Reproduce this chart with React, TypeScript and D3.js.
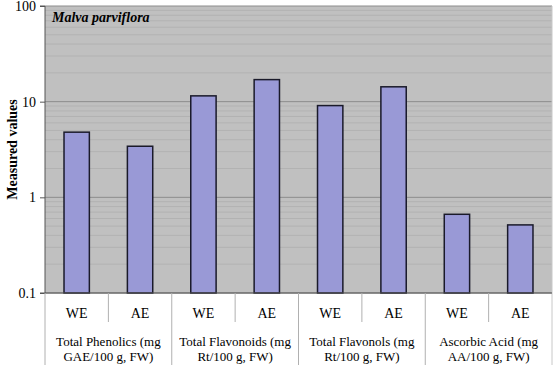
import { useEffect, useRef } from "react";
import * as d3 from "d3";

const groups = [
  ["Total Phenolics (mg", "GAE/100 g, FW)"],
  ["Total Flavonoids (mg", "Rt/100 g, FW)"],
  ["Total Flavonols (mg", "Rt/100 g, FW)"],
  ["Ascorbic Acid (mg", "AA/100 g, FW)"],
];
const extracts = ["WE", "AE"];
const weValues = [4.8, 11.5, 9.1, 0.665];
const aeValues = [3.42, 17, 14.3, 0.515];
const yTicks = [0.1, 1, 10, 100];

const FONT = "'Liberation Serif', 'DejaVu Serif', 'Noto Serif', serif";

export default function App() {
  const svgRef = useRef(null);

  useEffect(() => {
    document.body.style.margin = "0";
    const w = 553;
    const h = 365;
    const left = 45;
    const right = 552;
    const top = 6;
    const bottom = 293;
    const svg = d3
      .select(svgRef.current)
      .attr("width", w)
      .attr("height", h)
      .style("font-family", FONT);
    svg.selectAll("*").remove();

    const bars = groups.flatMap((g, i) =>
      extracts.map((ext) => ({
        key: `${i}-${ext}`,
        group: i,
        ext,
        v: ext === "WE" ? weValues[i] : aeValues[i],
      }))
    );

    const x = d3
      .scaleBand()
      .domain(bars.map((b) => b.key))
      .range([left, right])
      .paddingInner(0.6)
      .paddingOuter(0.3);
    const slot = d3
      .scaleBand()
      .domain(bars.map((b) => b.key))
      .range([left, right]);
    const gx = d3
      .scaleBand()
      .domain(groups.map((_, i) => String(i)))
      .range([left, right]);
    const y = d3.scaleLog().domain([0.1, 100]).range([bottom, top]);

    svg
      .append("rect")
      .attr("x", left)
      .attr("y", top)
      .attr("width", right - left)
      .attr("height", bottom - top)
      .attr("fill", "#c0c0c0");

    // minor grid
    const minor: number[] = [];
    [0.1, 1, 10].forEach((d) => {
      for (let k = 2; k <= 9; k++) minor.push(d * k);
    });
    svg
      .append("g")
      .selectAll("line")
      .data(minor)
      .join("line")
      .attr("x1", left)
      .attr("x2", right)
      .attr("y1", (d) => y(d))
      .attr("y2", (d) => y(d))
      .attr("stroke", "#b2b2b2")
      .attr("stroke-width", 1);

    svg
      .append("g")
      .selectAll("line")
      .data(yTicks)
      .join("line")
      .attr("x1", left)
      .attr("x2", right)
      .attr("y1", (d) => y(d))
      .attr("y2", (d) => y(d))
      .attr("stroke", "#8c8c8c")
      .attr("stroke-width", 1);

    svg
      .append("g")
      .selectAll("rect")
      .data(bars)
      .join("rect")
      .attr("x", (b) => x(b.key)!)
      .attr("y", (b) => y(b.v))
      .attr("width", x.bandwidth())
      .attr("height", (b) => bottom - y(b.v))
      .attr("fill", "#9999d6")
      .attr("stroke", "#1a1a2a")
      .attr("stroke-width", 1.5);

    // right border
    svg
      .append("line")
      .attr("x1", right)
      .attr("x2", right)
      .attr("y1", top)
      .attr("y2", h)
      .attr("stroke", "#c8c8c8");

    // y axis
    const yAxis = d3
      .axisLeft(y)
      .tickValues(yTicks)
      .tickFormat((d) => String(d))
      .tickSize(5)
      .tickPadding(4);
    const ya = svg
      .append("g")
      .attr("transform", `translate(${left},0)`)
      .call(yAxis)
      .attr("font-family", null)
      .attr("font-size", null);
    ya.select(".domain").attr("stroke", "#555").attr("d", `M-5,${top}H0V${bottom}H-5`);
    ya.selectAll(".tick line").attr("stroke", "#555");
    ya.selectAll("text")
      .style("font-family", FONT)
      .style("font-size", "14px")
      .attr("fill", "#000");

    // x axis baseline
    svg
      .append("line")
      .attr("x1", left)
      .attr("x2", right)
      .attr("y1", bottom)
      .attr("y2", bottom)
      .attr("stroke", "#555");

    // sub ticks between WE and AE
    svg
      .append("g")
      .selectAll("line")
      .data(groups.map((_, i) => `${i}-AE`))
      .join("line")
      .attr("x1", (k) => slot(k)!)
      .attr("x2", (k) => slot(k)!)
      .attr("y1", bottom)
      .attr("y2", 322)
      .attr("stroke", "#b0b0b0");

    // group separators
    svg
      .append("g")
      .selectAll("line")
      .data(groups.map((_, i) => String(i)))
      .join("line")
      .attr("x1", (k) => gx(k)!)
      .attr("x2", (k) => gx(k)!)
      .attr("y1", bottom)
      .attr("y2", h)
      .attr("stroke", "#b0b0b0");

    svg
      .append("g")
      .selectAll("text")
      .data(bars)
      .join("text")
      .attr("x", (b) => slot(b.key)! + slot.bandwidth() / 2)
      .attr("y", 318)
      .attr("text-anchor", "middle")
      .style("font-family", FONT)
      .style("font-size", "14px")
      .text((b) => b.ext);

    const gl = svg
      .append("g")
      .selectAll("text")
      .data(groups)
      .join("text")
      .attr("text-anchor", "middle")
      .style("font-family", FONT)
      .style("font-size", "13px");
    gl.append("tspan")
      .attr("x", (_, i) => gx(String(i))! + gx.bandwidth() / 2)
      .attr("y", 346)
      .text((g) => g[0]);
    gl.append("tspan")
      .attr("x", (_, i) => gx(String(i))! + gx.bandwidth() / 2)
      .attr("y", 361)
      .text((g) => g[1]);

    svg
      .append("text")
      .attr("transform", `translate(17,${(top + bottom) / 2}) rotate(-90)`)
      .attr("text-anchor", "middle")
      .style("font-family", FONT)
      .style("font-weight", "bold")
      .style("font-size", "14px")
      .text("Measured values");

    svg
      .append("text")
      .attr("x", 52)
      .attr("y", 22)
      .style("font-family", FONT)
      .style("font-weight", "bold")
      .style("font-style", "italic")
      .style("font-size", "14px")
      .text("Malva parviflora");

    return () => {
      svg.selectAll("*").remove();
    };
  }, []);

  return (
    <div>
      <svg ref={svgRef} style={{ display: "block" }} />
    </div>
  );
}
